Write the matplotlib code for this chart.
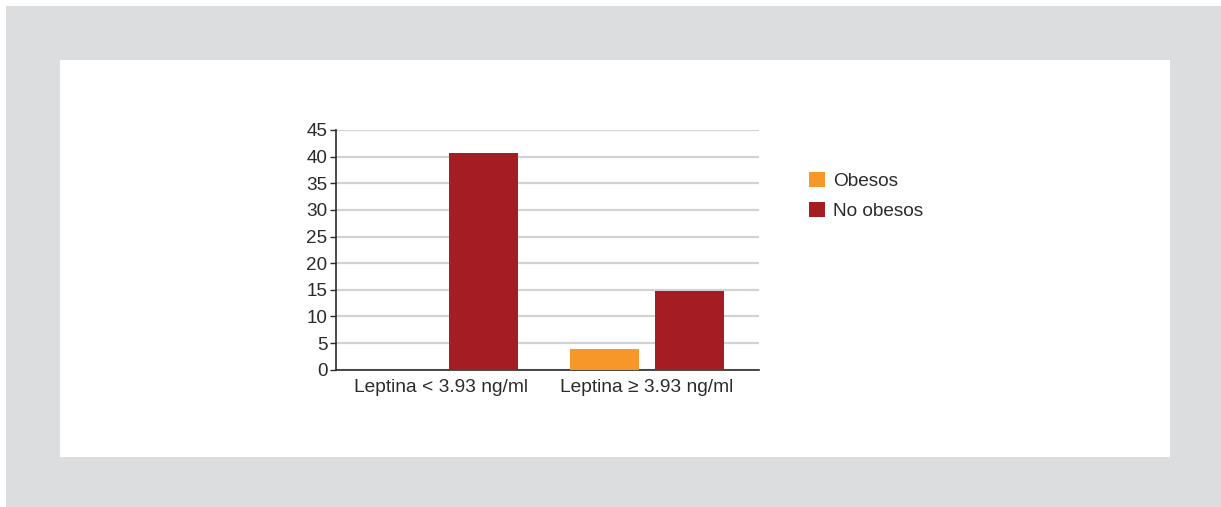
import matplotlib
matplotlib.use("Agg")
import numpy as np
import matplotlib.pyplot as plt
from matplotlib.patches import Rectangle, Patch

# Values
categories = ["Leptina < 3.93 ng/ml", "Leptina \u2265 3.93 ng/ml"]
obesos = [0.0, 3.9]
no_obesos = [40.6, 14.8]
series_names = ["Obesos", "No obesos"]
y_ticks = [0, 5, 10, 15, 20, 25, 30, 35, 40, 45]

ORANGE = "#F7972A"
RED = "#A31D22"
INK = "#2b2b2b"
GRID = "#d2d2d2"
FRAME = "#DCDDDF"

plt.rcParams["font.family"] = ["Liberation Sans", "DejaVu Sans"]

W, H = 1221, 507
fig = plt.figure(figsize=(W / 100, H / 100), dpi=100, facecolor="white")


def px_rect(x0, y0, x1, y1, color):
    # rectangle given in image pixels (y down)
    fig.add_artist(Rectangle((x0 / W, 1 - y1 / H), (x1 - x0) / W, (y1 - y0) / H,
                             transform=fig.transFigure, facecolor=color,
                             edgecolor="none", zorder=0))


px_rect(6, 6, W, H, FRAME)
px_rect(60, 60, 1170, 457, "white")

ax = fig.add_axes([335.7 / W, 1 - 369.7 / H, (759 - 335.7) / W, (369.7 - 130) / H])
ax.set_facecolor("none")

x = np.arange(len(categories))
width = 0.335
offset = 0.206
ax.bar(x - offset, obesos, width, color=ORANGE, zorder=3)
ax.bar(x + offset, no_obesos, width, color=RED, zorder=3)

ax.set_xlim(-0.511, 1.544)
ax.set_ylim(0, 45)
ax.set_yticks(y_ticks)
ax.set_xticks(x)
ax.set_xticklabels(categories)
ax.yaxis.grid(True, color=GRID, linewidth=1.6, zorder=1)
ax.set_axisbelow(True)

for side in ["top", "right"]:
    ax.spines[side].set_visible(False)
ax.spines["left"].set_color(INK)
ax.spines["bottom"].set_color(INK)
ax.spines["left"].set_linewidth(1.2)
ax.spines["bottom"].set_linewidth(1.2)
ax.tick_params(axis="y", length=4, width=1, color=INK, labelsize=13.6,
               labelcolor=INK, pad=2)
ax.tick_params(axis="x", length=0, labelsize=13.8, labelcolor=INK, pad=6.5)

handles = [Patch(facecolor=ORANGE), Patch(facecolor=RED)]
fig.legend(handles, series_names, loc="upper left",
           bbox_to_anchor=(796 / W, 1 - 159 / H), frameon=False,
           fontsize=13.7, handlelength=0.85, handleheight=0.85,
           handletextpad=0.4, labelspacing=0.62, borderpad=0.2,
           labelcolor=INK)

fig.savefig("out.png", dpi=100, facecolor="white")
